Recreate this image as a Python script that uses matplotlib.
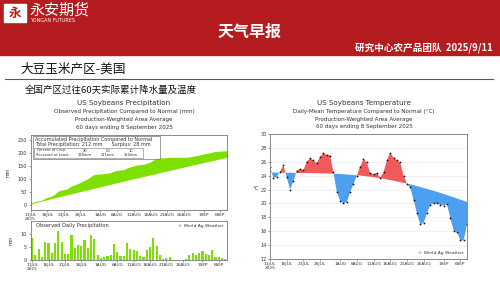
import numpy as np
import matplotlib
matplotlib.use('Agg')
import matplotlib.pyplot as plt
from matplotlib.patches import Rectangle

# ---- data ----
days = np.arange(60)  # 11 Jul .. 8 Sep 2025
tick_days = [0, 5, 10, 15, 21, 26, 31, 36, 41, 46, 52, 57]
tick_labels = ['11JUL\n2025', '16JUL', '21JUL', '26JUL', '1AUG', '6AUG', '11AUG',
               '16AUG', '21AUG', '26AUG', '1SEP', '6SEP']

daily_precip = [8.6, 2.0, 4.1, 1.0, 7.1, 6.5, 2.6, 6.5, 11.3, 7.0,
                2.4, 2.4, 9.5, 4.7, 5.6, 5.5, 7.6, 4.6, 9.5, 8.1,
                2.1, 0.6, 1.3, 1.6, 1.8, 6.2, 2.9, 1.6, 1.6, 6.5,
                4.2, 3.7, 3.5, 1.6, 1.1, 3.7, 5.0, 8.3, 5.2, 2.1,
                0.5, 0.9, 1.1, 0.0, 0.0, 0.0, 0.1, 0.3, 1.9, 2.8,
                1.9, 2.8, 3.4, 2.3, 2.1, 3.9, 1.3, 1.1, 0.8, 0.4]
normal_daily = [3.4, 3.3, 3.3, 3.3, 3.3, 3.2, 3.2, 3.2, 3.2, 3.2,
                3.2, 3.2, 3.1, 3.1, 3.1, 3.1, 3.1, 3.1, 3.1, 3.1,
                3.1, 3.1, 3.1, 3.1, 3.1, 3.1, 3.1, 3.1, 3.1, 3.1,
                3.0, 3.0, 3.0, 3.0, 3.0, 3.0, 3.0, 3.0, 3.0, 3.0,
                3.0, 3.0, 3.0, 3.0, 3.0, 3.0, 3.0, 3.0, 3.0, 3.0,
                2.9, 2.9, 2.9, 2.9, 2.9, 2.9, 2.9, 2.9, 2.9, 2.9]

temp = [25.3, 23.7, 23.8, 24.6, 25.5, 23.8, 22.0, 23.2, 24.7, 25.0,
        24.8, 26.0, 26.5, 26.2, 25.8, 26.7, 27.3, 27.0, 26.9, 24.5,
        21.7, 20.4, 20.0, 20.2, 21.6, 22.8, 24.0, 25.3, 26.4, 25.9,
        24.4, 24.2, 24.4, 23.7, 24.5, 26.2, 27.3, 26.6, 26.2, 25.9,
        24.0, 22.8, 22.3, 20.5, 18.6, 17.0, 17.2, 18.6, 19.8, 20.0,
        20.0, 19.8, 19.7, 19.9, 17.9, 16.1, 15.9, 14.7, 14.7, 17.0]
temp_normal = [24.45, 24.45, 24.44, 24.44, 24.43, 24.42, 24.42, 24.41, 24.40, 24.39,
               24.38, 24.37, 24.36, 24.35, 24.34, 24.33, 24.32, 24.31, 24.30, 24.28,
               24.26, 24.23, 24.20, 24.17, 24.13, 24.09, 24.05, 24.01, 23.96, 23.91,
               23.85, 23.78, 23.71, 23.63, 23.55, 23.46, 23.37, 23.27, 23.17, 23.07,
               22.97, 22.86, 22.75, 22.63, 22.50, 22.37, 22.24, 22.10, 21.96, 21.82,
               21.67, 21.52, 21.36, 21.20, 21.04, 20.88, 20.72, 20.55, 20.38, 20.20]

crop_pct = ['90', '50', '10']
crop_amt = ['118mm', '211mm', '314mm']

# ---- layout helpers (pixel coords of a 500x281 picture) ----
W, H = 500, 281
def box(x0, y0, x1, y1):
    return [x0 / W, 1 - y1 / H, (x1 - x0) / W, (y1 - y0) / H]
def fx(x):
    return x / W
def fy(y):
    return 1 - y / H

CJK = ['Noto Sans CJK SC', 'DejaVu Sans']
RED = '#b51c20'
GREEN = '#7ee000'
CHART_TXT = '#333333'

fig = plt.figure(figsize=(5, 2.81), dpi=100)
fig.patch.set_facecolor('white')

# header band
fig.patches.append(Rectangle((0, fy(55)), 1, 55 / H, transform=fig.transFigure,
                             color=RED, zorder=0))
fig.patches.append(Rectangle((fx(4), fy(22)), 22 / W, 18 / H, transform=fig.transFigure,
                             color='white', zorder=1))
fig.text(fx(15), fy(13.5), '永', family=CJK, fontsize=9, fontweight='bold', color=RED,
         ha='center', va='center')
fig.text(fx(30), fy(10.5), '永安期货', family=CJK, fontsize=10.8, color='white',
         ha='left', va='center')
fig.text(fx(30.5), fy(20), 'YONGAN FUTURES', fontsize=3.5, color='white',
         ha='left', va='center')
fig.text(fx(250), fy(32), '天气早报', family=CJK, fontsize=11.5, fontweight='bold',
         color='white', ha='center', va='center')
fig.text(fx(493), fy(48), '研究中心农产品团队  2025/9/11', family=CJK, fontsize=6.9,
         fontweight='bold', color='white', ha='right', va='center')

fig.text(fx(20), fy(69), '大豆玉米产区-美国', family=CJK, fontsize=9.1, color='#111111',
         ha='left', va='center')
fig.add_artist(plt.Line2D([fx(5), fx(493)], [fy(79.5), fy(79.5)], color='#9a3a3a', lw=0.8))
fig.text(fx(25), fy(90), '全国产区过往60天实际累计降水量及温度', family=CJK, fontsize=6.8,
         color='#111111', ha='left', va='center')

def style_axes(ax):
    for s in ax.spines.values():
        s.set_color('#777777')
        s.set_linewidth(0.6)
    ax.tick_params(labelsize=3.5, length=1.5, width=0.4, colors='#555555',
                   labelcolor=CHART_TXT, pad=1)
    ax.set_xticks(tick_days)
    ax.set_xticklabels(tick_labels, fontsize=3.1, linespacing=0.9)
    ax.set_xticks(days, minor=True)
    ax.tick_params(which='minor', length=0.8, width=0.3, colors='#777777')

def titles(cx, y0, name, sub):
    fig.text(fx(cx), fy(y0), name, fontsize=5.1, color=CHART_TXT, ha='center', va='center')
    for k, line in enumerate([sub, 'Production-Weighted Area Average',
                              '60 days ending 8 September 2025']):
        fig.text(fx(cx), fy(y0 + 8.3 + 7.7 * k), line, fontsize=4.1, color=CHART_TXT,
                 ha='center', va='center')

# ---- left: precipitation ----
obs_cum = np.cumsum(daily_precip)
norm_cum = np.cumsum(normal_daily)

titles(124, 103.5, 'US Soybeans Precipitation',
       'Observed Precipitation Compared to Normal (mm)')

ax1 = fig.add_axes(box(30.5, 135, 227, 210))
ax1.fill_between(days, norm_cum, obs_cum, color=GREEN, lw=0)
ax1.set_xlim(0, 59)
ax1.set_ylim(-20, 270)
ax1.set_yticks([0, 50, 100, 150, 200, 250])
style_axes(ax1)
ax1.set_ylabel('mm', fontsize=3.4, color=CHART_TXT, labelpad=5)

fig.patches.append(Rectangle((fx(32.5), fy(158.5)), 127 / W, 22.5 / H,
                             transform=fig.transFigure, fill=False, lw=0.5,
                             ec='#777777', zorder=5))
fig.patches.append(Rectangle((fx(34), fy(157.5)), 109 / W, 10 / H,
                             transform=fig.transFigure, fill=False, lw=0.4,
                             ec='#777777', zorder=5))
fig.text(fx(35), fy(139), 'Accumulated Precipitation Compared to Normal', fontsize=3.5,
         color=CHART_TXT, ha='left', va='center')
fig.text(fx(35), fy(144.5), 'Total Precipitation: 212 mm      Surplus: 28 mm', fontsize=3.5,
         color=CHART_TXT, ha='left', va='center')
fig.text(fx(37), fy(150.5), 'Percent of Crop:', fontsize=2.6, color=CHART_TXT,
         ha='left', va='center')
fig.text(fx(36), fy(155), 'Received at Least:', fontsize=2.6, color=CHART_TXT,
         ha='left', va='center')
for i, (p, a) in enumerate(zip(crop_pct, crop_amt)):
    fig.text(fx(85 + 23 * i), fy(150.5), p, fontsize=2.6, color=CHART_TXT, ha='center',
             va='center')
    fig.text(fx(85 + 23 * i), fy(155), a, fontsize=2.6, color=CHART_TXT, ha='center',
             va='center')

ax2 = fig.add_axes(box(30.5, 221, 227, 260))
ax2.bar(days, daily_precip, width=0.65, color=GREEN, lw=0)
ax2.set_xlim(-0.5, 59.5)
ax2.set_ylim(0, 15)
ax2.set_yticks([0, 5, 10])
style_axes(ax2)
ax2.set_ylabel('mm', fontsize=3.4, color=CHART_TXT, labelpad=5)
ax2.text(0.03, 0.88, 'Observed Daily Precipitation', transform=ax2.transAxes, fontsize=3.7,
         color=CHART_TXT, ha='left', va='center')
ax2.text(0.98, 0.88, '© World Ag Weather', transform=ax2.transAxes, fontsize=3.2,
         color=CHART_TXT, ha='right', va='center')

# ---- right: temperature ----
titles(364, 103, 'US Soybeans Temperature',
       'Daily-Mean Temperature Compared to Normal (°C)')

t = np.array(temp)
tn = np.array(temp_normal)
ax3 = fig.add_axes(box(270, 134, 467, 259))
ax3.fill_between(days, tn, t, where=t >= tn, interpolate=True, color='#f05a5a', lw=0)
ax3.fill_between(days, tn, t, where=t <= tn, interpolate=True, color='#4d9ff0', lw=0)
ax3.plot(days, t, 'o', ms=1.3, color='#111111', mew=0)
ax3.set_xlim(0, 59)
ax3.set_ylim(12, 30)
ax3.set_yticks(np.arange(12, 31, 2))
ax3.grid(axis='y', color='#e6e6e6', lw=0.4)
ax3.set_axisbelow(True)
style_axes(ax3)
fig.text(fx(256), fy(189), '°C', fontsize=4, color=CHART_TXT, ha='center', va='center')
ax3.text(0.98, 0.05, '© World Ag Weather', transform=ax3.transAxes, fontsize=3.2,
         color=CHART_TXT, ha='right', va='center')

fig.savefig('out.png', dpi=100)
